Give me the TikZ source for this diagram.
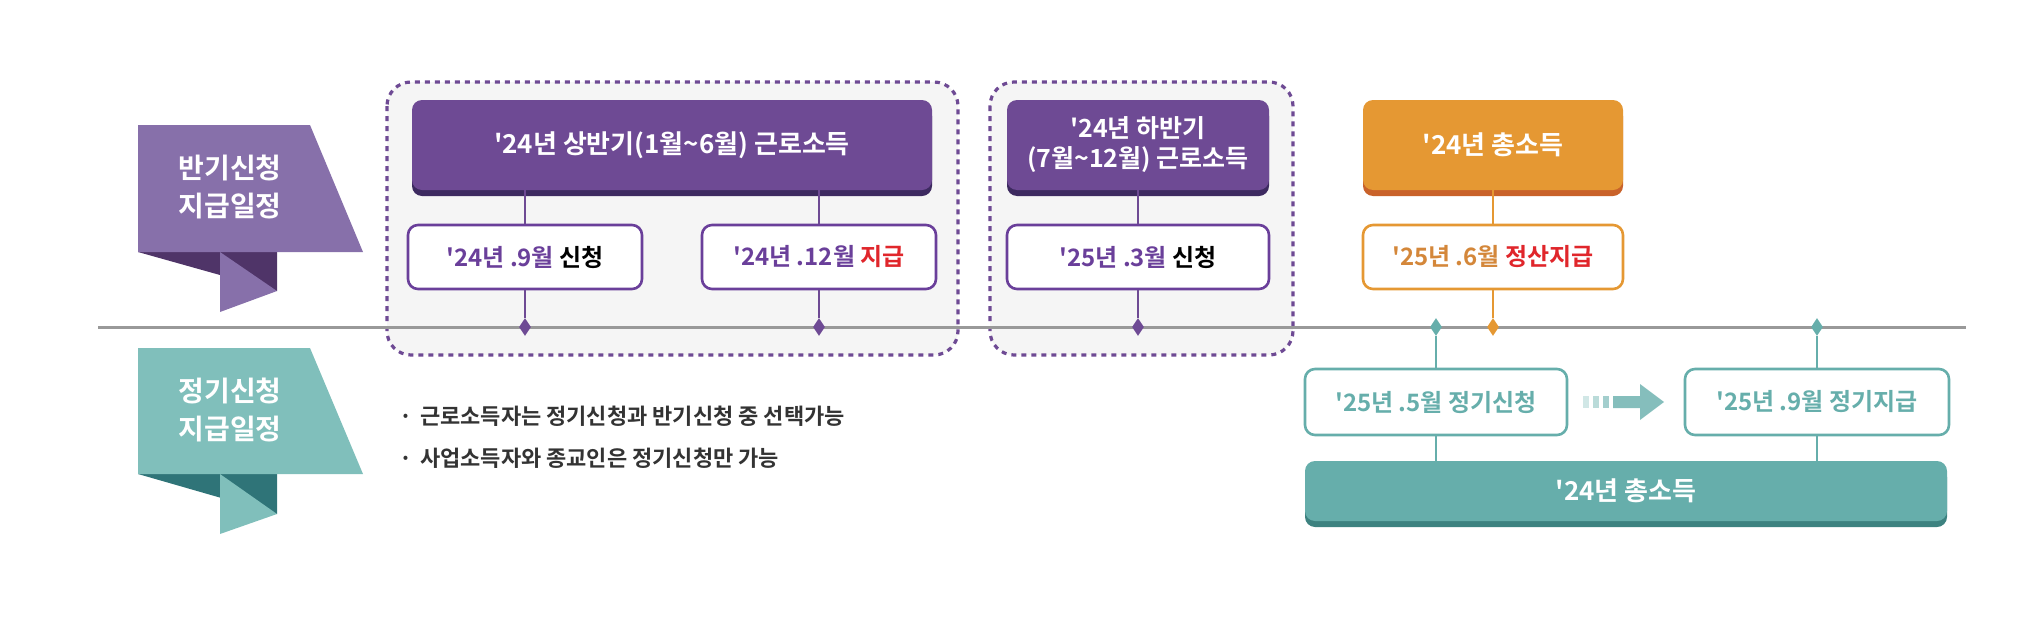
\documentclass[tikz,border=0pt]{standalone}
\usepackage{fontspec}
\setmainfont{Noto Sans CJK KR}
\newfontfamily\kb{Noto Sans CJK KR Bold}
\usetikzlibrary{shadows,shapes.geometric}
\definecolor{pur}{HTML}{6E4A94}
\definecolor{purd}{HTML}{3D2A60}
\definecolor{purt}{HTML}{6A3F9A}
\definecolor{rib1}{HTML}{8770AA}
\definecolor{rib1d}{HTML}{4F3468}
\definecolor{org}{HTML}{E59833}
\definecolor{orgd}{HTML}{C9622A}
\definecolor{orgt}{HTML}{D4873A}
\definecolor{tl}{HTML}{66AEAB}
\definecolor{tld}{HTML}{3D8280}
\definecolor{rib2}{HTML}{80BFBB}
\definecolor{rib2d}{HTML}{2F7478}
\definecolor{redt}{HTML}{E0262B}
\tikzset{
 hdr/.style={rounded corners=5pt,minimum height=45pt,text=white,font=\kb\fontsize{13}{16}\selectfont,align=center,inner sep=0pt},
 sub/.style={rounded corners=5pt,draw,line width=1.3pt,fill=white,minimum height=32pt,font=\kb\fontsize{12}{14}\selectfont,inner sep=0pt},
 grp/.style={rounded corners=12pt,draw=pur,line width=1.6pt,dash pattern=on 2.5pt off 2.5pt,fill=black!4},
 dia/.style={diamond,fill,inner sep=0pt,minimum width=6pt,minimum height=9pt},
 ln/.style={line width=0.8pt},
}
\begin{document}
\begin{tikzpicture}[x=0.5pt,y=-0.5pt]
\useasboundingbox (0,0) rectangle (2026,632);
% ribbons
\fill[rib1d] (138,252) -- (277,291) -- (277,252) -- cycle;
\fill[rib1] (220,252) -- (277,291) -- (220,312) -- cycle;
\fill[rib1] (138,125) -- (310,125) -- (363,252) -- (138,252) -- cycle;
\node[text=white,font=\kb\fontsize{14}{19}\selectfont,align=center] (r1) at (230,187) {반기신청\\지급일정};
\fill[rib2d] (138,474) -- (277,514) -- (277,474) -- cycle;
\fill[rib2] (220,474) -- (277,514) -- (220,534) -- cycle;
\fill[rib2] (138,348) -- (310,348) -- (363,474) -- (138,474) -- cycle;
\node[text=white,font=\kb\fontsize{14}{19}\selectfont,align=center] (r2) at (230,410) {정기신청\\지급일정};
% groups
\draw[grp] (387,82) rectangle (958,355);
\draw[grp] (990,82) rectangle (1293,355);
% timeline
\draw[line width=1.5pt,black!40] (98,327) -- (1966,327);
% headers
\node[hdr,fill=pur,minimum width=260pt,drop shadow={shadow xshift=0pt,shadow yshift=-3pt,fill=purd,opacity=1}] (h1) at (672,145) {'24년 상반기(1월\textasciitilde6월) 근로소득};
\node[hdr,fill=pur,minimum width=131pt,font=\kb\fontsize{12.5}{15}\selectfont,drop shadow={shadow xshift=0pt,shadow yshift=-3pt,fill=purd,opacity=1}] (h2) at (1138,145) {'24년 하반기\\(7월\textasciitilde12월) 근로소득};
\node[hdr,fill=org,minimum width=130pt,drop shadow={shadow xshift=0pt,shadow yshift=-3pt,fill=orgd,opacity=1}] (h3) at (1493,145) {'24년 총소득};
% sub boxes
\node[sub,draw=purt,minimum width=117pt] (a) at (525,257) {\textcolor{purt}{'24년 .9월} 신청};
\node[sub,draw=purt,minimum width=117pt] (b) at (819,257) {\textcolor{purt}{'24년 .12월} \textcolor{redt}{지급}};
\node[sub,draw=purt,minimum width=131pt] (c) at (1138,257) {\textcolor{purt}{'25년 .3월} 신청};
\node[sub,draw=org,minimum width=130pt] (d) at (1493,257) {\textcolor{orgt}{'25년 .6월} \textcolor{redt}{정산지급}};
% timeline points
\node[dia,pur] (pa) at (525,327) {};
\node[dia,pur] (pb) at (819,327) {};
\node[dia,pur] (pc) at (1138,327) {};
\node[dia,org] (pd) at (1493,327) {};
\node[dia,tl] (pe) at (1436,327) {};
\node[dia,tl] (pf) at (1817,327) {};
\draw[ln,pur] (h1.south -| a) -- (a.north) (a.south) -- (pa);
\draw[ln,pur] (h1.south -| b) -- (b.north) (b.south) -- (pb);
\draw[ln,pur] (h2.south) -- (c.north) (c.south) -- (pc);
\draw[ln,org] (h3.south) -- (d.north) (d.south) -- (pd);
% regular
\node[sub,draw=tl,text=tl,minimum width=131pt,minimum height=33pt] (e) at (1436,402) {'25년 .5월 정기신청};
\node[sub,draw=tl,text=tl,minimum width=132pt,minimum height=33pt] (f) at (1817,402) {'25년 .9월 정기지급};
\node[hdr,fill=tl,minimum width=321pt,minimum height=30pt,drop shadow={shadow xshift=0pt,shadow yshift=-3pt,fill=tld,opacity=1}] (g) at (1626,491) {'24년 총소득};
\draw[ln,tl] (pe) -- (e.north) (e.south) -- (e.south |- g.north);
\draw[ln,tl] (pf) -- (f.north) (f.south) -- (f.south |- g.north);
% arrow
\coordinate (ar) at (1583,402);
\fill[tl!30] (1583,396) rectangle (1589,408);
\fill[tl!45] (1593,396) rectangle (1599,408);
\fill[tl!60] (1603,396) rectangle (1609,408);
\fill[tl!80] (1613,396) -- (1640,396) -- (1640,384) -- (1664,402) -- (1640,420) -- (1640,408) -- (1613,408) -- cycle;
% notes
\node[anchor=west,text=black!80,font=\kb\fontsize{11}{13}\selectfont] (n1) at (392,416) {·\hspace{4pt}근로소득자는 정기신청과 반기신청 중 선택가능};
\node[anchor=west,text=black!80,font=\kb\fontsize{11}{13}\selectfont] (n2) at (392,458) {·\hspace{4pt}사업소득자와 종교인은 정기신청만 가능};
\end{tikzpicture}
\end{document}
